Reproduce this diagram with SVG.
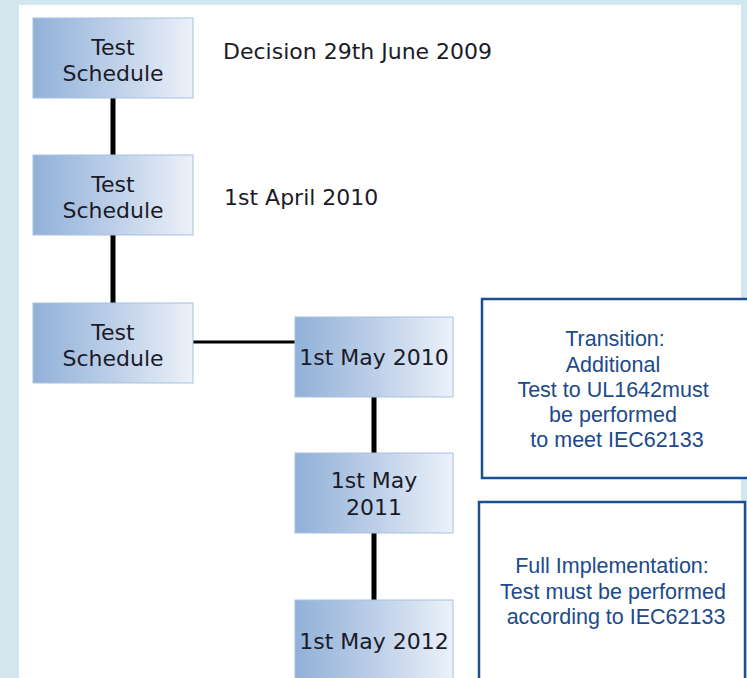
<svg xmlns="http://www.w3.org/2000/svg" width="747" height="678" viewBox="0 0 747 678">
  <defs>
    <linearGradient id="nodeGrad" x1="0" y1="0" x2="1" y2="0">
      <stop offset="0" stop-color="#91b1d9"/>
      <stop offset="0.5" stop-color="#bccfe8"/>
      <stop offset="1" stop-color="#ecf1f9"/>
    </linearGradient>
    <style>
      .node { fill: url(#nodeGrad); stroke: #a8c1e0; stroke-width: 1; }
      .ntxt { font-family: "DejaVu Sans", Verdana, sans-serif; font-size: 22px; fill: #1b1b28; text-anchor: middle; }
      .ltxt { font-family: "DejaVu Sans", Verdana, sans-serif; font-size: 22px; fill: #1b1b28; }
      .note { fill: #ffffff; stroke: #1c4f8f; stroke-width: 2.5; }
      .btxt { font-family: "Liberation Sans", Arial, sans-serif; font-size: 21.5px; fill: #1c4a8a; text-anchor: middle; }
      .thick { stroke: #000000; stroke-width: 5; fill: none; }
      .thin { stroke: #000000; stroke-width: 3; fill: none; }
    </style>
  </defs>

  <!-- background frame -->
  <rect x="0" y="0" width="747" height="678" fill="#d3e8ee"/>
  <rect x="19" y="5" width="722" height="673" fill="#ffffff"/>

  <!-- connectors -->
  <g id="connectors">
    <line class="thick" x1="113" y1="98" x2="113" y2="155"/>
    <line class="thick" x1="113" y1="235" x2="113" y2="303"/>
    <line class="thin" x1="193" y1="342" x2="295" y2="342"/>
    <line class="thick" x1="374" y1="397" x2="374" y2="453"/>
    <line class="thick" x1="374" y1="533" x2="374" y2="600"/>
  </g>

  <g id="schedule1">
    <rect class="node" x="33" y="18" width="160" height="80"/>
    <text class="ntxt" x="113" y="55">Test</text>
    <text class="ntxt" x="113" y="81">Schedule</text>
  </g>
  <g id="label-decision">
    <text class="ltxt" x="223" y="59">Decision 29th June 2009</text>
  </g>

  <g id="schedule2">
    <rect class="node" x="33" y="155" width="160" height="80"/>
    <text class="ntxt" x="113" y="192">Test</text>
    <text class="ntxt" x="113" y="218">Schedule</text>
  </g>
  <g id="label-april">
    <text class="ltxt" x="224" y="205">1st April 2010</text>
  </g>

  <g id="schedule3">
    <rect class="node" x="33" y="303" width="160" height="80"/>
    <text class="ntxt" x="113" y="340">Test</text>
    <text class="ntxt" x="113" y="366">Schedule</text>
  </g>

  <g id="may2010">
    <rect class="node" x="295" y="317" width="158" height="80"/>
    <text class="ntxt" x="374" y="365">1st May 2010</text>
  </g>

  <g id="may2011">
    <rect class="node" x="295" y="453" width="158" height="80"/>
    <text class="ntxt" x="374" y="488">1st May</text>
    <text class="ntxt" x="374" y="515">2011</text>
  </g>

  <g id="may2012">
    <rect class="node" x="295" y="600" width="158" height="82"/>
    <text class="ntxt" x="374" y="649">1st May 2012</text>
  </g>

  <g id="transition">
    <rect class="note" x="482" y="299" width="270" height="179"/>
    <text class="btxt" x="615" y="346">Transition:</text>
    <text class="btxt" x="613" y="372">Additional</text>
    <text class="btxt" x="613" y="397">Test to UL1642must</text>
    <text class="btxt" x="613" y="422">be performed</text>
    <text class="btxt" x="617" y="447">to meet IEC62133</text>
  </g>

  <g id="full">
    <rect class="note" x="479" y="502" width="266" height="185"/>
    <text class="btxt" x="612" y="573">Full Implementation:</text>
    <text class="btxt" x="613" y="599">Test must be performed</text>
    <text class="btxt" x="616" y="624">according to IEC62133</text>
  </g>
</svg>
